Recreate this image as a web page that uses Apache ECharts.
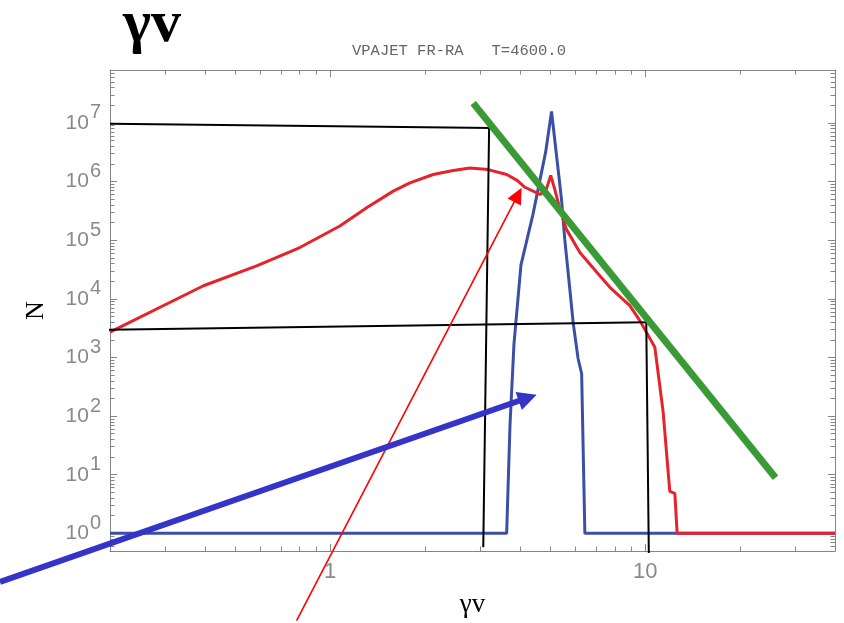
<!DOCTYPE html>
<html>
<head>
<meta charset="utf-8">
<script src="https://cdn.jsdelivr.net/npm/echarts@6/dist/echarts.min.js"></script>
<style>
  html, body { margin: 0; padding: 0; background: #ffffff; }
  #chart { width: 844px; height: 623px; }
</style>
</head>
<body>
<div id="chart"></div>
<script>
// Axis ranges (log-log)
const xRange = [0.2, 40];
const yRange = [0.5, 8e7];

// Red spectrum: N(γv)
const redX = [0.2, 0.396, 0.584, 0.801, 1.073, 1.305, 1.585, 1.79, 2.122, 2.456, 2.775, 3.17,
              3.63, 3.92, 4.15, 4.63, 4.83, 5.01, 5.16, 5.36, 5.62, 6.20, 7.17, 7.72, 8.93,
              9.61, 10.72, 11.39, 11.96, 12.41, 12.62, 40];
const redN = [2700, 16700, 36500, 75000, 175000, 359000, 687000, 953000, 1.32e6, 1.54e6, 1.71e6, 1.60e6,
              1.32e6, 1.05e6, 800000, 604000, 687000, 1.27e6, 734000, 336000, 153000, 61700, 24700, 15700, 7640,
              4250, 1500, 118, 5.2, 4.8, 1, 1];

// Blue spectrum: narrow peak
const blueX = [0.2, 3.63, 3.72, 3.83, 4.03, 4.40, 4.83, 5.04, 5.23, 5.42, 5.55, 5.76, 5.90, 6.12, 6.28, 6.43, 40];
const blueN = [1, 1, 70, 1710, 37500, 276000, 3.24e6, 1.57e7, 2.70e6, 496000, 104000, 14700, 3990, 950, 528, 1, 1];

// Green power-law guide
const greenX = [2.843, 25.9];
const greenN = [2.18e7, 8.87];

// Black guide segments [[x1, N1], [x2, N2]]
const blackSegments = [
  [[0.2, 9.7e6], [3.28, 8.2e6]],
  [[3.195, 9.96e6], [3.06, 0.578]],
  [[0.193, 2950], [10.09, 3990]],
  [[10.07, 3990], [10.26, 0.463]]
];

// Arrows: tail -> head
const redArrow = [0.782, 0.0324, 4.05, 7.84e5];
const blueArrow = [0.0895, 0.149, 4.52, 232];

const zip = (xs, ys) => xs.map((x, i) => [x, ys[i]]);

function isDecade(v) {
  const l = Math.log10(v);
  return Math.abs(l - Math.round(l)) < 1e-6;
}

function arrowRenderer(color, width, headLength, headWidth) {
  return function (params, api) {
    const a = api.coord([api.value(0), api.value(1)]);
    const b = api.coord([api.value(2), api.value(3)]);
    const dx = b[0] - a[0], dy = b[1] - a[1];
    const len = Math.hypot(dx, dy);
    const ux = dx / len, uy = dy / len;
    const hw = headWidth / 2;
    const bx = b[0] - ux * headLength, by = b[1] - uy * headLength;
    return {
      type: 'group',
      children: [
        { type: 'line', shape: { x1: a[0], y1: a[1], x2: bx + ux * 2, y2: by + uy * 2 },
          style: { stroke: color, lineWidth: width } },
        { type: 'polygon', shape: { points: [[b[0], b[1]], [bx - uy * hw, by + ux * hw], [bx + uy * hw, by - ux * hw]] },
          style: { fill: color } }
      ]
    };
  };
}

const axisGray = '#858585';
const labelFont = 'Liberation Sans';

function logAxis(extra) {
  return Object.assign({
    type: 'log',
    logBase: 10,
    axisLine: { show: true, lineStyle: { color: axisGray, width: 1 } },
    axisTick: { show: true, inside: true, length: 7, lineStyle: { color: axisGray } },
    minorTick: { show: true, splitNumber: 9, length: 4.5, lineStyle: { color: axisGray } },
    splitLine: { show: false },
    minorSplitLine: { show: false }
  }, extra);
}

const chart = echarts.init(document.getElementById('chart'), null, { renderer: 'canvas' });

const series = [
  { type: 'line', name: 'blue', data: zip(blueX, blueN), showSymbol: false, symbol: 'none',
    lineStyle: { color: '#3b4fa6', width: 3 }, z: 2, clip: true },
  { type: 'line', name: 'red', data: zip(redX, redN), showSymbol: false, symbol: 'none',
    lineStyle: { color: '#e5232b', width: 3 }, z: 3, clip: true }
];
blackSegments.forEach((seg, i) => {
  series.push({ type: 'line', name: 'guide' + i, data: seg, showSymbol: false, symbol: 'none',
    lineStyle: { color: '#000000', width: 2 }, z: 4, clip: false });
});
series.push({ type: 'line', name: 'green', data: zip(greenX, greenN), showSymbol: false, symbol: 'none',
  lineStyle: { color: '#3a9a36', width: 7, cap: 'butt' }, z: 5, clip: false });
series.push({ type: 'custom', name: 'redArrow', data: [redArrow], renderItem: arrowRenderer('#ff0000', 1.6, 16, 15),
  encode: { x: [0, 2], y: [1, 3] }, z: 6, clip: false, silent: true });
series.push({ type: 'custom', name: 'blueArrow', data: [blueArrow], renderItem: arrowRenderer('#3434c8', 6, 19, 19),
  encode: { x: [0, 2], y: [1, 3] }, z: 6, clip: false, silent: true });

chart.setOption({
  animation: false,
  backgroundColor: '#ffffff',
  title: [
    { text: 'γv', left: 123, top: -5, padding: 0,
      textStyle: { fontFamily: 'Liberation Serif', fontWeight: 'bold', fontSize: 60, color: '#000' } },
    { text: 'VPAJET FR-RA   T=4600.0', left: 352, top: 43, padding: 0,
      textStyle: { fontFamily: 'Liberation Mono', fontWeight: 'normal', fontSize: 15.5, color: '#666' } }
  ],
  grid: { left: 110, top: 70, right: 9, bottom: 70, containLabel: false },
  xAxis: [
    logAxis({ position: 'bottom', min: xRange[0], max: xRange[1],
      name: 'γv', nameLocation: 'middle', nameGap: 40,
      nameTextStyle: { fontFamily: 'Liberation Serif', fontSize: 27, color: '#000' },
      axisLabel: { show: true, margin: 10, color: '#8a8a8a', fontFamily: labelFont, fontSize: 22,
        showMinLabel: false, showMaxLabel: false,
        formatter: v => (isDecade(v) && v >= 1 ? String(Math.round(v)) : '') } }),
    logAxis({ position: 'top', min: xRange[0], max: xRange[1], axisLabel: { show: false } })
  ],
  yAxis: [
    logAxis({ position: 'left', min: yRange[0], max: yRange[1],
      name: 'N', nameLocation: 'middle', nameGap: 61,
      nameTextStyle: { fontFamily: 'Liberation Serif', fontSize: 26, color: '#000' },
      axisLabel: { show: true, margin: 9, showMinLabel: false, showMaxLabel: false,
        formatter: v => (isDecade(v) ? '{b|10}{e|' + Math.round(Math.log10(v)) + '}' : ''),
        rich: {
          b: { fontFamily: labelFont, fontSize: 21, color: '#8a8a8a' },
          e: { fontFamily: labelFont, fontSize: 20, color: '#8a8a8a', padding: [0, 0, 20, 1] }
        } } }),
    logAxis({ position: 'right', min: yRange[0], max: yRange[1], axisLabel: { show: false } })
  ],
  series: series
});
</script>
</body>
</html>
